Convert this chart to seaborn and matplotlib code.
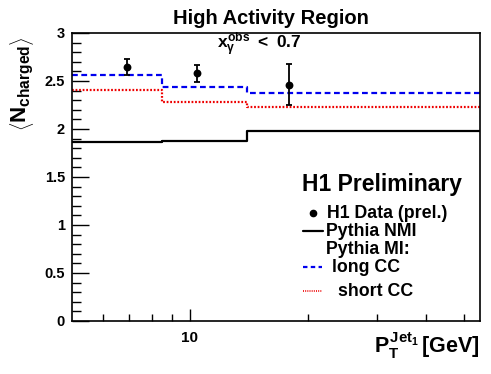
import numpy as np
import pandas as pd
import matplotlib
matplotlib.use("Agg")
import matplotlib.pyplot as plt
import seaborn as sns

# ---- data ----
bin_edges = [5.0, 8.5, 14.0, 55.0]
nmi = [1.86, 1.87, 1.98]
long_cc = [2.565, 2.44, 2.37]
short_cc = [2.405, 2.285, 2.23]
data_x = [6.9, 10.4, 17.9]
data_y = [2.645, 2.58, 2.46]
data_err = [0.08, 0.09, 0.215]
x_major = [10]
x_major_labels = ["10"]
x_minor = [6, 7, 8, 9, 20, 30, 40, 50]
y_major = [0, 0.5, 1, 1.5, 2, 2.5, 3]
y_major_labels = ["0", "0.5", "1", "1.5", "2", "2.5", "3"]

sns.set_theme(style="white")
plt.rcParams["font.family"] = ["Liberation Sans", "DejaVu Sans"]
plt.rcParams["text.color"] = "black"
plt.rcParams["axes.labelcolor"] = "black"
plt.rcParams["xtick.color"] = "black"
plt.rcParams["ytick.color"] = "black"
plt.rcParams["mathtext.fontset"] = "custom"
plt.rcParams["mathtext.rm"] = "Liberation Sans:bold"
plt.rcParams["mathtext.it"] = "Liberation Sans:bold"
plt.rcParams["mathtext.bf"] = "Liberation Sans:bold"
plt.rcParams["mathtext.sf"] = "Liberation Sans:bold"

W, H = 491, 374
fig = plt.figure(figsize=(W / 100, H / 100), dpi=100)
ax = fig.add_axes([72 / W, 1 - 321 / H, (480 - 72) / W, (321 - 33) / H])


def step_df(vals):
    return pd.DataFrame({"x": bin_edges, "y": list(vals) + [vals[-1]]})


sns.lineplot(data=step_df(nmi), x="x", y="y", ax=ax, color="black", lw=1.6,
             drawstyle="steps-post", estimator=None, sort=False)
sns.lineplot(data=step_df(long_cc), x="x", y="y", ax=ax, color="#0000ee", lw=1.6,
             drawstyle="steps-post", estimator=None, sort=False)
ax.lines[-1].set_dashes([2.6, 1.6])
sns.lineplot(data=step_df(short_cc), x="x", y="y", ax=ax, color="#ee0000", lw=1.6,
             drawstyle="steps-post", estimator=None, sort=False)
ax.lines[-1].set_dashes([0.8, 0.8])

ax.errorbar(data_x, data_y, yerr=data_err, fmt="none", ecolor="black",
            elinewidth=1.3, capsize=2.5, capthick=1.3)
sns.scatterplot(x=data_x, y=data_y, ax=ax, color="black", s=32, marker="o",
                edgecolor="black", linewidth=0, zorder=5)

ax.set_xscale("log")
ax.set_xlim(5, 55)
ax.set_ylim(0, 3)
ax.set_xticks(x_major)
ax.set_xticklabels(x_major_labels)
ax.set_xticks(x_minor, minor=True)
ax.set_xticklabels([], minor=True)
ax.set_yticks(y_major)
ax.set_yticklabels(y_major_labels)
ax.set_yticks(np.arange(0, 3.001, 0.1), minor=True)
ax.set_xlabel("")
ax.set_ylabel("")

for s in ax.spines.values():
    s.set_color("black")
    s.set_linewidth(1.2)
ax.tick_params(axis="y", which="major", direction="in", length=12, width=1,
               left=True, right=False, labelsize=10.5, pad=5, colors="black")
ax.tick_params(axis="y", which="minor", direction="in", length=6.5, width=1,
               left=True, right=False, colors="black")
ax.tick_params(axis="x", which="major", direction="in", length=9, width=1,
               bottom=True, top=False, labelsize=11, pad=7, colors="black")
ax.tick_params(axis="x", which="minor", direction="in", length=5, width=1,
               bottom=True, top=False, colors="black")
for lab in ax.get_xticklabels() + ax.get_yticklabels():
    lab.set_fontweight("bold")

# titles and labels
fig.text(270.5 / W, 1 - 19 / H, "High Activity Region", ha="center", va="center",
         fontsize=14.5, fontweight="bold")
fig.text(259.5 / W, 1 - 45 / H, r"$x_{\gamma}^{obs}\ <\ 0.7$", ha="center", va="center",
         fontsize=12.5)
fig.text(22 / W, 1 - 84 / H, r"$\left\langle N_{charged} \right\rangle$", ha="center",
         va="center", rotation=90, fontsize=16)
fig.text(480 / W, 1 - 346 / H, r"$P_{T}^{Jet_{1}}\,$[GeV]", ha="right", va="center",
         fontsize=15.5, fontweight="bold")


def fx(px):
    return px / W


def fy(py):
    return 1 - py / H


# legend block
fig.text(fx(301.7), fy(185), "H1 Preliminary", ha="left", va="center",
         fontsize=16.5, fontweight="bold")
fig.text(fx(326.7), fy(213.5), "H1 Data (prel.)", ha="left", va="center",
         fontsize=12.8, fontweight="bold")
fig.text(fx(326), fy(231.5), "Pythia NMI", ha="left", va="center",
         fontsize=12.8, fontweight="bold")
fig.text(fx(326), fy(249.5), "Pythia MI:", ha="left", va="center",
         fontsize=12.8, fontweight="bold")
fig.text(fx(331.7), fy(267.5), "long CC", ha="left", va="center",
         fontsize=12.8, fontweight="bold")
fig.text(fx(337.7), fy(291), "short CC", ha="left", va="center",
         fontsize=12.8, fontweight="bold")

fig.add_artist(plt.Line2D([fx(312.7)], [fy(213.5)], marker="o", markersize=4.5,
                          color="black", transform=fig.transFigure))
fig.add_artist(plt.Line2D([fx(302.7), fx(322.5)], [fy(230.7), fy(230.7)],
                          color="black", lw=1.6, transform=fig.transFigure))
fig.add_artist(plt.Line2D([fx(303), fx(322)], [fy(267.3), fy(267.3)],
                          color="#0000ee", lw=1.6, dashes=[2, 1.5],
                          transform=fig.transFigure))
fig.add_artist(plt.Line2D([fx(303), fx(322)], [fy(291), fy(291)],
                          color="#ee0000", lw=1.2, dashes=[0.6, 0.7],
                          transform=fig.transFigure))

fig.savefig("out.png", dpi=100)
